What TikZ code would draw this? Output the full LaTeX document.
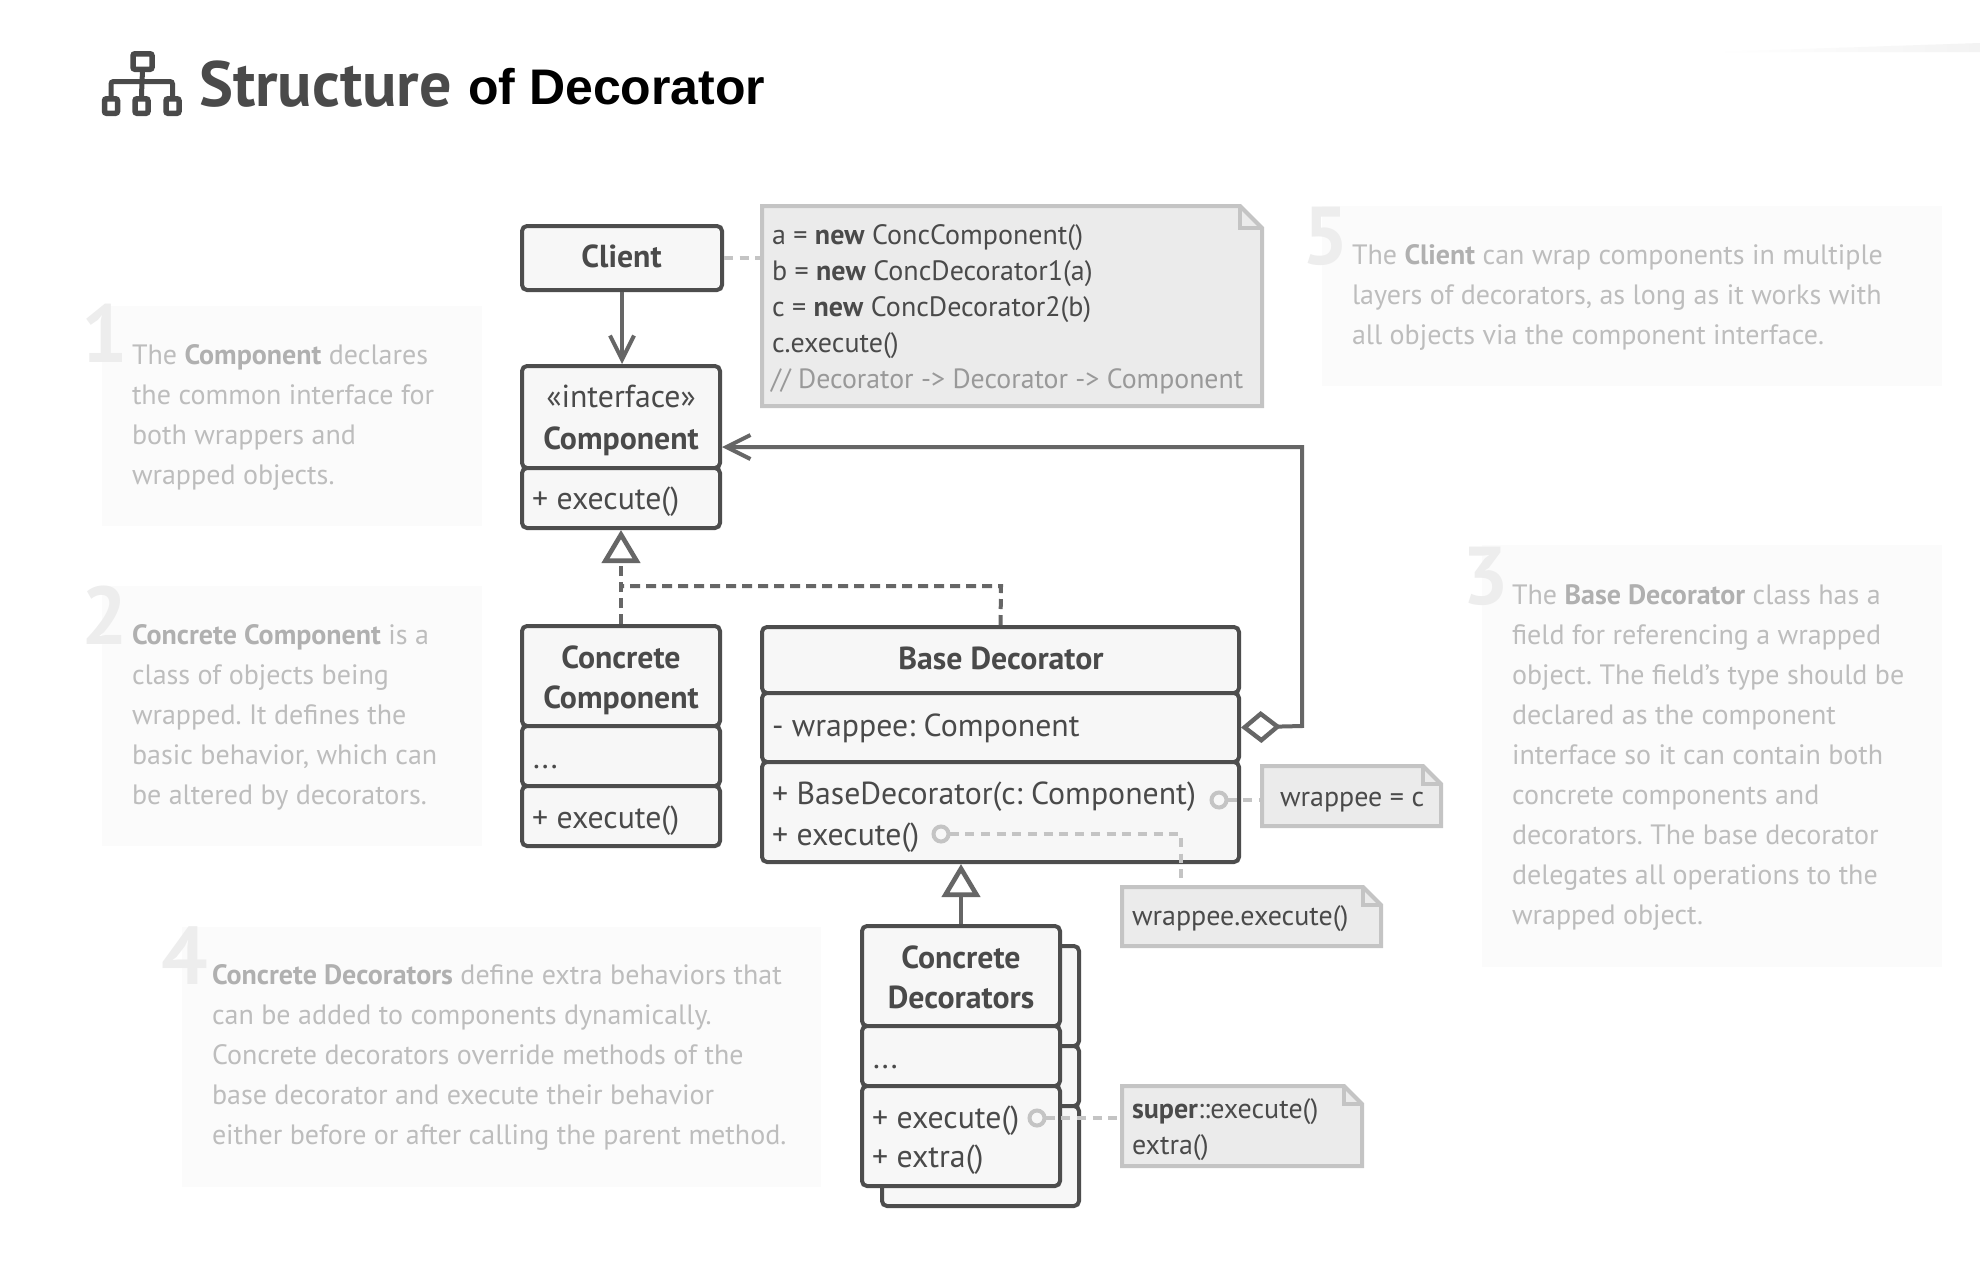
\documentclass[tikz,border=0pt]{standalone}
\usepackage{fontspec}
\usepackage{graphicx}
\setmainfont{PT Sans}
\newfontfamily\arialfam{Liberation Sans}
\usetikzlibrary{arrows.meta}
\frenchspacing
\definecolor{ink}{HTML}{4A4A4A}
\definecolor{boxline}{HTML}{4D4D4D}
\definecolor{conn}{HTML}{666666}
\definecolor{boxfill}{HTML}{F7F7F7}
\definecolor{notefill}{HTML}{EBEBEB}
\definecolor{noteline}{HTML}{C4C4C4}
\definecolor{panelfill}{HTML}{FBFBFB}
\definecolor{captext}{HTML}{BDBDBD}
\definecolor{capbold}{HTML}{B0B0B0}
\definecolor{capnum}{HTML}{EDEDED}
\definecolor{comment}{HTML}{999999}
\definecolor{wedge}{HTML}{F3F3F3}
\tikzset{
  x=1pt,y=-1pt,
  compartment/.style={draw=boxline,fill=boxfill,line width=4pt,rounded corners=5pt,inner sep=0,outer sep=2pt},
  panel/.style={fill=panelfill,inner sep=0,outer sep=0},
  notebody/.style={draw=noteline,fill=notefill,line width=4pt,line join=miter},
  anchorbox/.style={inner sep=0,outer sep=2pt},
  clstitle/.style={anchor=base,inner sep=0,outer sep=0,text=ink,font=\fontsize{31.8}{32}\selectfont\bfseries},
  clsplain/.style={anchor=base,inner sep=0,outer sep=0,text=ink,font=\fontsize{31.8}{32}\selectfont},
  member/.style={anchor=base west,inner sep=0,outer sep=0,text=ink,font=\fontsize{31.8}{32}\selectfont},
  notetext/.style={anchor=base west,inner sep=0,outer sep=0,text=ink,font=\fontsize{28}{28}\selectfont},
  captiontext/.style={anchor=base west,inner sep=0,outer sep=0,text=captext,font=\fontsize{28}{40}\selectfont},
  capnumber/.style={anchor=base,inner sep=0,outer sep=0,text=capnum,font=\fontsize{82}{82}\selectfont\bfseries},
  assoc/.style={draw=conn,line width=4pt},
  realize/.style={draw=conn,line width=4pt,dash pattern=on 10pt off 6pt},
  opentip/.style={-{Straight Barb[length=24pt,width=24pt,line width=4pt]}},
  triangletip/.style={-{Triangle[open,fill=white,length=33pt,width=38pt,line width=4.6pt]}},
  notelink/.style={draw=noteline,line width=4pt,dash pattern=on 9pt off 6.7pt},
  pin/.style={circle,draw=noteline,line width=4pt,minimum size=15pt,inner sep=0,outer sep=1pt},
  iconbox/.style={draw=ink,line width=5.5pt,rounded corners=2pt,inner sep=0},
  iconline/.style={draw=ink,line width=5pt,rounded corners=2.5pt},
}
\newcommand{\compbox}[5]{\node[compartment,minimum width={(#4-#2)*1pt},minimum height={(#5-#3)*1pt}] (#1) at ({(#2+#4)/2},{(#3+#5)/2}) {};}
\newcommand{\notebox}[6]{%
  \path[notebody] (#2,#3) -- ({#4-#6},#3) -- (#4,{#3+#6}) -- (#4,#5) -- (#2,#5) -- cycle;
  \path[notebody,fill=none] ({#4-#6},#3) -- ({#4-#6},{#3+#6}) -- (#4,{#3+#6});
  \node[anchorbox,minimum width={(#4-#2)*1pt},minimum height={(#5-#3)*1pt}] (#1) at ({(#2+#4)/2},{(#3+#5)/2}) {};}
\newcommand{\capblock}[9]{%
  \node[panel,minimum width={(#4-#2)*1pt},minimum height={(#5-#3)*1pt}] (#1) at ({(#2+#4)/2},{(#3+#5)/2}) {};
  \node[captiontext] (#1text) at (#6,#7) {\parbox[t]{700pt}{\raggedright #9}};
  #8}
\newcommand{\cb}[1]{\textcolor{capbold}{\textbf{#1}}}
\begin{document}
\begin{tikzpicture}
\useasboundingbox (0,0) rectangle (1980,1280);
\fill[white] (0,0) rectangle (1980,1280);
\shade[left color=white,right color=wedge] (1713,52) -- (1980,43) -- (1980,52) -- cycle;

% title
\node[iconbox,minimum width=19pt,minimum height=15.5pt] (icontop) at (142.5,61.5) {};
\node[iconbox,minimum width=13pt,minimum height=14.5pt] (iconl) at (111,106) {};
\node[iconbox,minimum width=13pt,minimum height=14.5pt] (iconm) at (141.5,106) {};
\node[iconbox,minimum width=13pt,minimum height=14.5pt] (iconr) at (172.5,106) {};
\coordinate (iconbar) at (142,81.5);
\draw[iconline] (icontop.south) -- (iconbar);
\draw[iconline] (iconl.north) |- (iconbar) -| (iconr.north);
\draw[iconline] (iconbar) -- (iconm.north);
\node[anchor=base west,inner sep=0,text=ink] (titlea) at (199,106) {\fontsize{64}{64}\selectfont\bfseries Structure};
\node[anchor=base west,inner sep=0,text=black] (titleb) at (468,104) {\arialfam\fontsize{50}{50}\selectfont\bfseries of Decorator};

% captions
\capblock{capa}{102}{306}{482}{526}{132}{364}{\node[capnumber] (numa) at (105,362) {1};}{The \cb{Component} declares\\the common interface for\\both wrappers and\\wrapped objects.}
\capblock{capb}{102}{586}{482}{846}{132}{644}{\node[capnumber] (numb) at (105,644) {2};}{\cb{Concrete Component} is a\\class of objects being\\wrapped. It defines the\\basic behavior, which can\\be altered by decorators.}
\capblock{capc}{1482}{545}{1942}{967}{1512}{604}{\node[capnumber] (numc) at (1486,604) {3};}{The \cb{Base Decorator} class has a\\field for referencing a wrapped\\object. The field’s type should be\\declared as the component\\interface so it can contain both\\concrete components and\\decorators. The base decorator\\delegates all operations to the\\wrapped object.}
\capblock{capd}{182}{927}{821}{1187}{212}{984}{\node[capnumber] (numd) at (185,984) {4};}{\cb{Concrete Decorators} define extra behaviors that\\can be added to components dynamically.\\Concrete decorators override methods of the\\base decorator and execute their behavior\\either before or after calling the parent method.}
\capblock{cape}{1322}{206}{1942}{386}{1352}{264}{\node[capnumber] (nume) at (1326,264) {5};}{The \cb{Client} can wrap components in multiple\\layers of decorators, as long as it works with\\all objects via the component interface.}

% notes
\notebox{bignote}{762}{206}{1262}{406}{22}
\notebox{wnote}{1262}{766}{1441}{826}{18}
\notebox{enote}{1122}{887}{1381}{946}{18}
\notebox{snote}{1122}{1086}{1362}{1166}{18}

% classes
\compbox{client}{522}{226}{722}{290}
\compbox{comptop}{522}{366}{720}{468}
\compbox{compbot}{522}{468}{720}{528}
\compbox{cctop}{522}{626}{720}{726}
\compbox{ccmid}{522}{726}{720}{786}
\compbox{ccbot}{522}{786}{720}{846}
\compbox{bdtop}{762}{627}{1239}{693}
\compbox{bdmid}{762}{693}{1239}{762}
\compbox{bdbot}{762}{762}{1239}{862}
\compbox{backa}{882}{946}{1079}{1046}
\compbox{backb}{882}{1046}{1079}{1106}
\compbox{backc}{882}{1106}{1079}{1206}
\compbox{cdtop}{862}{926}{1060}{1026}
\compbox{cdmid}{862}{1026}{1060}{1086}
\compbox{cdbot}{862}{1086}{1060}{1186}

% class text
\node[clstitle] (tclient) at (621.5,267) {Client};
\node[clsplain] (tiface) at (621,407) {«interface»};
\node[clstitle] (tcomp) at (621,449) {Component};
\node[member] (tcompm) at (532,509) {+ execute()};
\node[clstitle] (tcca) at (621,668) {Concrete};
\node[clstitle] (tccb) at (621,708) {Component};
\node[member] (tccf) at (533,768) {...};
\node[member] (tccm) at (532,828) {+ execute()};
\node[clstitle] (tbd) at (1001,669) {Base Decorator};
\node[member] (tbdf) at (772,736) {- wrappee: Component};
\node[member] (tbdm) at (772,804) {+ BaseDecorator(c: Component)};
\node[member] (tbdx) at (772,845) {+ execute()};
\node[clstitle] (tcda) at (961,968) {Concrete};
\node[clstitle] (tcdb) at (961,1008) {Decorators};
\node[member] (tcdf) at (873,1068) {...};
\node[member] (tcdm) at (872,1128) {+ execute()};
\node[member] (tcdx) at (872,1167) {+ extra()};

% note text
\node[notetext] (na) at (772,244) {a = \textbf{new} ConcComponent()};
\node[notetext] (nb) at (772,280) {b = \textbf{new} ConcDecorator1(a)};
\node[notetext] (nc) at (772,316) {c = \textbf{new} ConcDecorator2(b)};
\node[notetext] (nd) at (772,352) {c.execute()};
\node[notetext,text=comment,font=\fontsize{27.8}{28}\selectfont] (ne) at (771,388) {// Decorator -> Decorator -> Component};
\node[notetext] (nw) at (1280,806) {wrappee = c};
\node[notetext] (nx) at (1132,925) {wrappee.execute()};
\node[notetext] (ns) at (1132,1118) {\textbf{super}::execute()};
\node[notetext] (nt) at (1132,1154) {extra()};

% pins
\node[pin] (pina) at (1219,800) {};
\node[pin] (pinb) at (941,834) {};
\node[pin] (pinc) at (1037,1118) {};

% connectors
\draw[notelink] (client.east) -- (bignote.west |- client.east);
\draw[notelink] (pina) -- (wnote.west |- pina);
\coordinate (pinbturn) at (1181,834);
\draw[notelink] (pinb) -- (pinbturn) -- (pinbturn |- enote.north);
\draw[notelink] (pinc) -- (snote.west |- pinc);

\draw[assoc,opentip] (client.south) -- (client.south |- comptop.north);
\coordinate (aggelbow) at (1302,726);
\coordinate (aggtop) at (1302,447);
\draw[assoc,{Turned Square[open,fill=white,length=40pt,width=32pt,line width=4.4pt]}-{Straight Barb[length=24pt,width=24pt,line width=4pt]}] (bdmid.east) -- (aggelbow) -- (aggtop) -- (aggtop -| comptop.east);
\coordinate (jointop) at (1001,586);
\draw[realize] (bdtop.north) -- (jointop) -- (jointop -| cctop.north);
\draw[realize,triangletip] (cctop.north) -- (cctop.north |- compbot.south);
\draw[assoc,triangletip] (cdtop.north) -- (cdtop.north |- bdbot.south);
\end{tikzpicture}
\end{document}
